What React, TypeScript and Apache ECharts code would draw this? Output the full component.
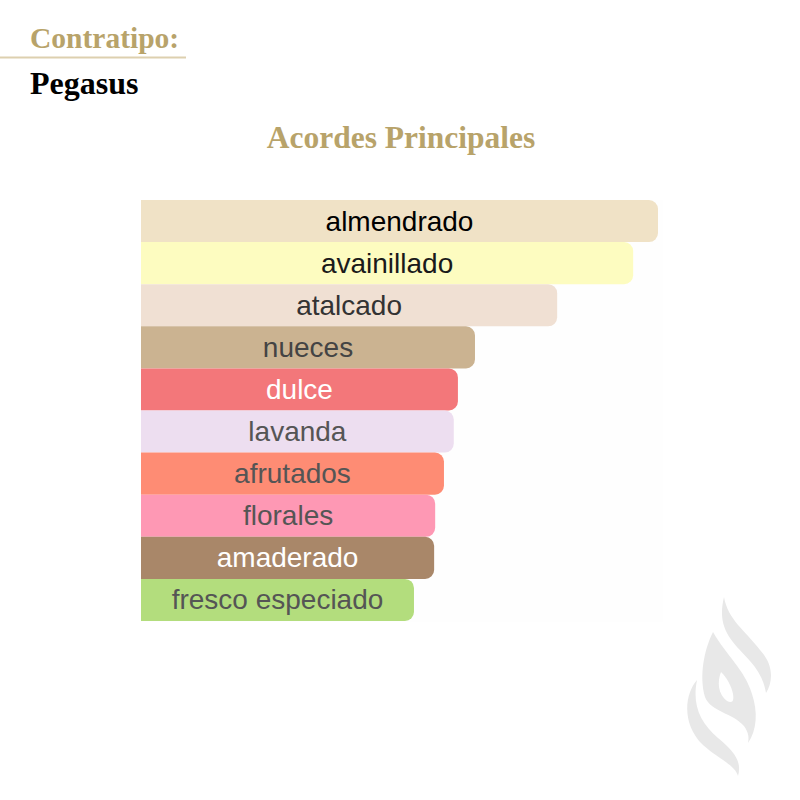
import React, { useEffect, useRef } from "react";
import * as echarts from "echarts";

const categories = [
  "almendrado",
  "avainillado",
  "atalcado",
  "nueces",
  "dulce",
  "lavanda",
  "afrutados",
  "florales",
  "amaderado",
  "fresco especiado",
];
const values = [100, 95.2, 80.5, 64.6, 61.3, 60.5, 58.6, 56.9, 56.7, 52.8];
const barColors = [
  "#F0E2C6",
  "#FDFCC0",
  "#F0E0D3",
  "#CBB391",
  "#F3777A",
  "#EDDEF0",
  "#FE8C74",
  "#FE98B4",
  "#A98769",
  "#B3DD7D",
];
const labelColors = [
  "#000000",
  "#1a1a1a",
  "#333333",
  "#444444",
  "#ffffff",
  "#555555",
  "#555555",
  "#555555",
  "#ffffff",
  "#555555",
];

const GOLD = "#B8A36A";

const logoRight =
  "M724,597 C728,620 745,630 760,650 C774,665 773,682 766,693 C764,680 758,670 750,661 C733,642 716,630 724,597 Z";
const logoMiddle =
  "M713,632 C704,650 699,676 705,697 C711,712 733,713 744,726 C749,733 749,738 748,743 C757,730 758,712 752,694 C745,670 726,655 713,632 Z";
const logoHole =
  "M721,672 C717,682 718,694 727,701 C733,704 734,700 733,694 C731,685 727,678 721,672 Z";
const logoLeft =
  "M697,680 C684,695 682,725 703,745 C720,760 735,765 738,776 C742,762 735,752 718,738 C700,722 692,705 697,680 Z";

echarts.graphic.registerShape("logoRight", echarts.graphic.extendPath(logoRight, {}));
echarts.graphic.registerShape("logoMiddle", echarts.graphic.extendPath(logoMiddle, {}));
echarts.graphic.registerShape("logoHole", echarts.graphic.extendPath(logoHole, {}));
echarts.graphic.registerShape("logoLeft", echarts.graphic.extendPath(logoLeft, {}));

export default function App() {
  const ref = useRef<HTMLDivElement>(null);
  useEffect(() => {
    document.body.style.margin = "0";
    const chart = echarts.init(ref.current!, null, { renderer: "svg" });
    const serif = "'Liberation Serif', 'DejaVu Serif', serif";
    chart.setOption({
      animation: false,
      backgroundColor: "#ffffff",
      grid: { left: 141, top: 200, width: 517, height: 421 },
      xAxis: { type: "value", min: 0, max: 100, show: false },
      yAxis: {
        type: "category",
        data: categories,
        inverse: true,
        show: false,
      },
      graphic: [
        { type: "rect", shape: { x: 141, y: 200, width: 522, height: 422 }, style: { fill: "#fefefe" }, z: -10 },
        { type: "text", x: 30, y: 23, style: { text: "Contratipo:", font: `bold 29.5px ${serif}`, fill: GOLD } },
        { type: "line", shape: { x1: 0, y1: 57.5, x2: 186, y2: 57.5 }, style: { stroke: "#DDD0AF", lineWidth: 2 } },
        { type: "text", x: 30, y: 67, style: { text: "Pegasus", font: `bold 32px ${serif}`, fill: "#000000" } },
        { type: "text", x: 401, y: 121, style: { text: "Acordes Principales", font: `bold 31.5px ${serif}`, fill: GOLD, align: "center" } },
        { type: "logoRight", x: 0, y: 0, style: { fill: "#E8E8E8" } },
        { type: "logoMiddle", x: 0, y: 0, style: { fill: "#E8E8E8" } },
        { type: "logoHole", x: 0, y: 0, style: { fill: "#ffffff" } },
        { type: "logoLeft", x: 0, y: 0, style: { fill: "#E8E8E8" } },
      ],
      series: [
        {
          type: "bar",
          barCategoryGap: "0%",
          data: values.map((v, i) => ({
            value: v,
            itemStyle: { color: barColors[i], borderRadius: [0, 9, 9, 0] },
            label: { color: labelColors[i] },
          })),
          label: {
            show: true,
            position: "inside",
            formatter: (p: any) => p.name,
            fontFamily: "'Liberation Sans', Arial, sans-serif",
            fontSize: 28,
          },
        },
      ],
    });
    return () => chart.dispose();
  }, []);
  return <div ref={ref} style={{ width: 800, height: 800 }} />;
}
